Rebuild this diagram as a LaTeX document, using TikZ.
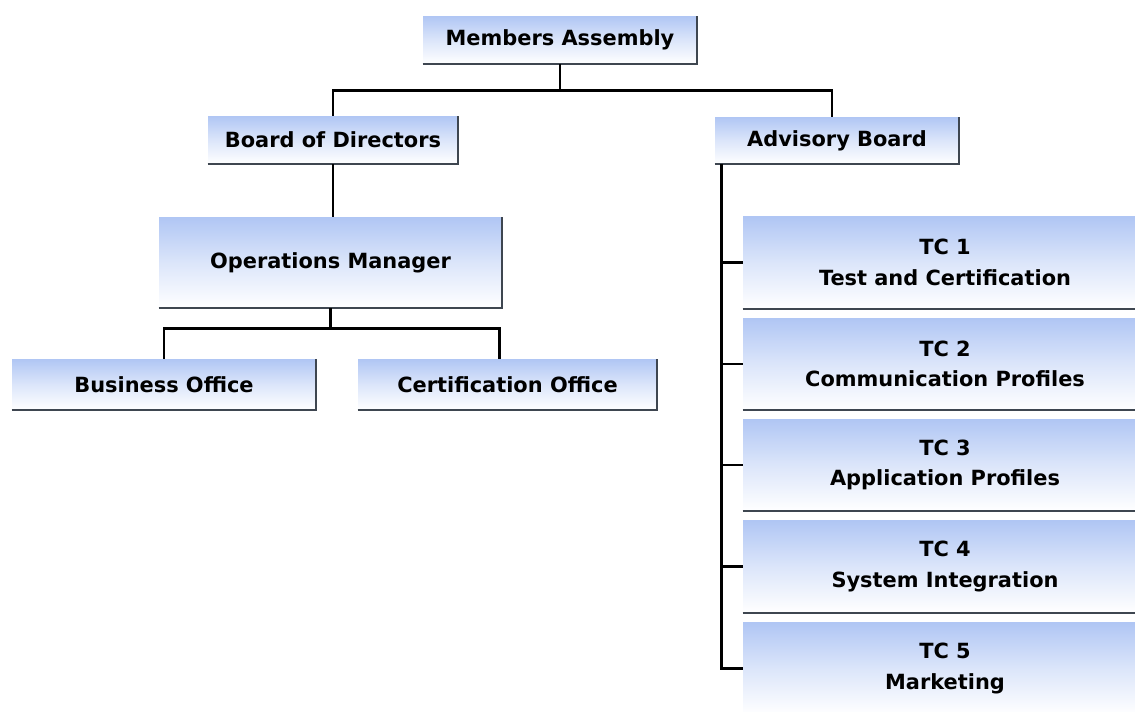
\documentclass[tikz,border=0pt]{standalone}
\usepackage{fontspec}
\setmainfont{DejaVu Sans}
\usetikzlibrary{positioning,calc}
\definecolor{boxblue}{RGB}{176,198,244}
\definecolor{rimgray}{RGB}{62,70,80}

\begin{document}
\begin{tikzpicture}[x=0.02cm, y=-0.02cm,
  box/.style={top color=boxblue, bottom color=white, middle color=boxblue!45, inner sep=0pt, align=center,
    font=\fontsize{11.9}{17.5}\selectfont\bfseries},
  tcbox/.style={box, minimum width=8.08cm, minimum height=1.84cm},
  rim/.style={draw=rimgray, line width=1.1pt},
  conn/.style={draw=black, line width=1.6pt}
]
\useasboundingbox (0,0) rectangle (1135,711);
\clip (0,0) rectangle (1135,711);

\node[box, minimum width=5.48cm, minimum height=0.96cm] (ma) at (560,40) {Members Assembly};
\node[box, minimum width=5.0cm, minimum height=0.96cm] (bod) at (333,140) {Board of Directors};
\node[box, minimum width=4.88cm, minimum height=0.94cm] (adv) at (837,140.5) {Advisory Board};
\node[box, minimum width=6.86cm, minimum height=1.82cm] (ops) at (330.5,262.5) {Operations Manager};
\node[box, minimum width=6.08cm, minimum height=1.02cm] (bus) at (164,384.5) {Business Office};
\node[box, minimum width=5.98cm, minimum height=1.02cm] (cert) at (507.5,384.5) {Certification Office};

\node[tcbox] (tc1) at (945,262.5) {TC 1\\Test and Certification};
\node[tcbox] (tc2) at (945,364) {TC 2\\Communication Profiles};
\node[tcbox] (tc3) at (945,465) {TC 3\\Application Profiles};
\node[tcbox] (tc4) at (945,566.5) {TC 4\\System Integration};
\node[tcbox] (tc5) at (945,668.5) {TC 5\\Marketing};

\foreach \n in {ma,bod,adv,ops,bus,cert,tc1,tc2,tc3,tc4,tc5}
  \draw[rim] (\n.south west) -- (\n.south east) -- (\n.north east);

\draw[conn] (ma.south) -- ++(0,26) coordinate (mj);
\draw[conn] (bod.north) |- (mj) -| ($(adv.north)+(-5,0)$);
\draw[conn] (bod.south) -- (bod.south |- ops.north);
\draw[conn] (ops.south) -- ++(0,20) coordinate (oj);
\draw[conn] (bus.north) |- (oj) -| ($(cert.north)+(-8,0)$);

\coordinate (sp) at ($(adv.south west)+(7,0)$);
\draw[conn] (sp) |- (tc5.west);
\foreach \t in {tc1,tc2,tc3,tc4}
  \draw[conn] (sp |- \t.west) -- (\t.west);
\end{tikzpicture}
\end{document}
